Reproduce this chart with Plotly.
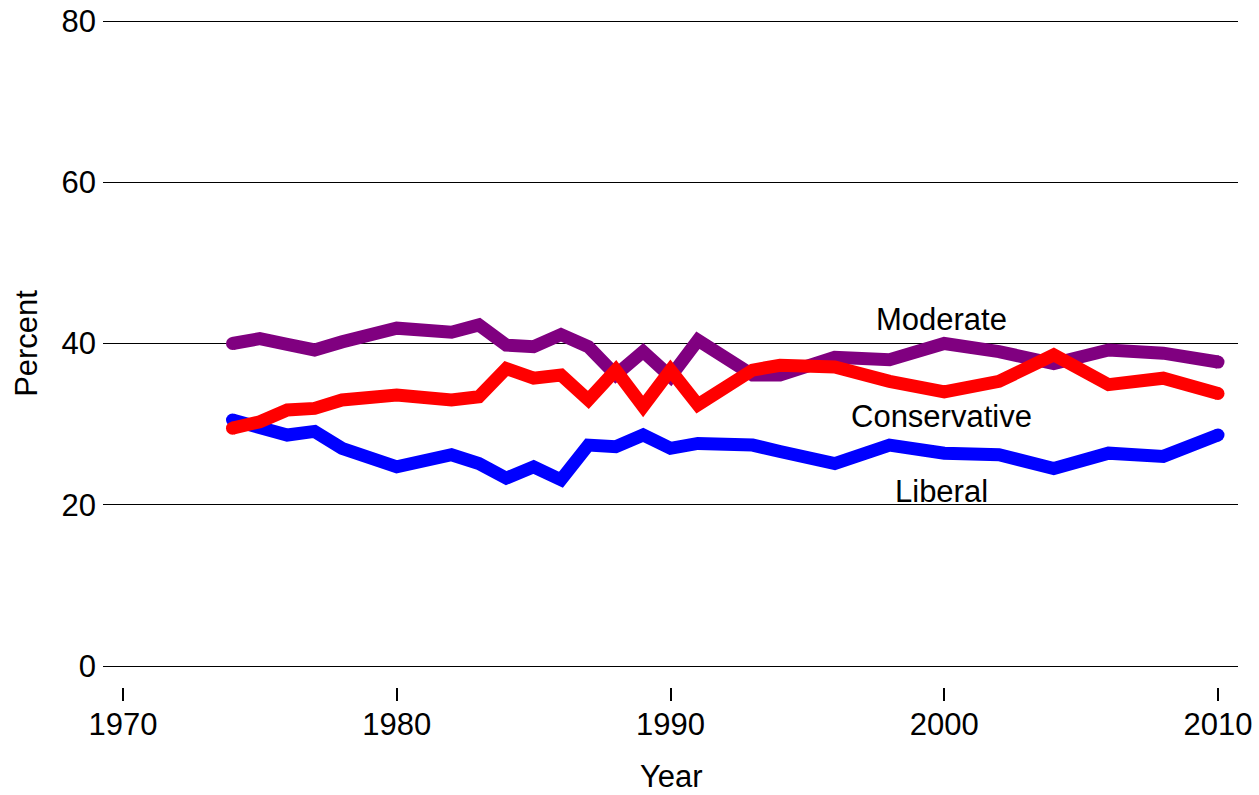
import plotly.graph_objects as go

years = [1974, 1975, 1976, 1977, 1978, 1980, 1982, 1983, 1984, 1985, 1986, 1987,
         1988, 1989, 1990, 1991, 1993, 1994, 1996, 1998, 2000, 2002, 2004, 2006,
         2008, 2010]
moderate = [40.0, 40.6, 39.9, 39.2, 40.2, 41.9, 41.4, 42.3, 39.8, 39.6, 41.1, 39.6,
            36.1, 39.0, 35.9, 40.4, 36.1, 36.1, 38.3, 38.0, 40.0, 39.0, 37.5, 39.2,
            38.8, 37.7]
conservative = [29.5, 30.3, 31.75, 31.95, 33.0, 33.6, 33.0, 33.4, 36.9, 35.7, 36.1, 33.0,
                36.7, 32.2, 36.7, 32.4, 36.7, 37.3, 37.1, 35.3, 34.0, 35.3, 38.6, 34.9,
                35.7, 33.8]
liberal = [30.5, 29.5, 28.65, 29.1, 27.0, 24.7, 26.2, 25.1, 23.3, 24.7, 23.1, 27.4,
           27.2, 28.65, 27.0, 27.6, 27.4, 26.6, 25.1, 27.4, 26.4, 26.2, 24.5, 26.4,
           26.0, 28.65]

series_names = ["Liberal", "Moderate", "Conservative"]
series_values = [liberal, moderate, conservative]
series_colors = ["#0000ff", "#800080", "#ff0000"]

label_texts = ["Moderate", "Conservative", "Liberal"]
label_x = [1999.9, 1999.9, 1999.9]
label_y = [43.0, 31.0, 21.6]

x_ticks = [1970, 1980, 1990, 2000, 2010]
y_ticks = [0, 20, 40, 60, 80]

x_title = "Year"
y_title = "Percent"

FONT = "Liberation Sans, Arial, sans-serif"
fig = go.Figure()
for name, vals, col in zip(series_names, series_values, series_colors):
    n = len(vals)
    sizes = [13 if i in (0, n - 1) else 0 for i in range(n)]
    fig.add_trace(go.Scatter(
        x=years, y=vals, mode="lines+markers", name=name,
        line=dict(color=col, width=13),
        marker=dict(color=col, size=sizes, opacity=1, line=dict(width=0)),
        showlegend=False, hoverinfo="skip"))

for t, xv, yv in zip(label_texts, label_x, label_y):
    fig.add_annotation(x=xv, y=yv, text=t, showarrow=False,
                       font=dict(size=31, color="black", family=FONT),
                       xanchor="center", yanchor="middle")

# axis titles
fig.add_annotation(x=0.501, y=-0.1331, xref="paper", yref="paper", text=x_title,
                   showarrow=False, xanchor="center", yanchor="middle",
                   font=dict(size=31, color="black", family=FONT))
fig.add_annotation(x=-0.067, y=0.509, xref="paper", yref="paper", text=y_title,
                   showarrow=False, xanchor="center", yanchor="middle", textangle=-90,
                   font=dict(size=31, color="black", family=FONT))

fig.update_layout(
    width=1259, height=795,
    margin=dict(l=103, r=21, t=11, b=108),
    paper_bgcolor="white", plot_bgcolor="white",
    font=dict(family=FONT, size=31, color="black"),
    xaxis=dict(range=[1969.27, 2010.73], tickvals=x_ticks, ticks="outside",
               ticklen=13, tickwidth=1.5, tickcolor="black", showgrid=False,
               showline=False, zeroline=False, automargin=False,
               ticklabelstandoff=-3),
    yaxis=dict(range=[-2.6047, 81.24], tickvals=y_ticks, showgrid=True,
               gridcolor="black", gridwidth=1, zeroline=False, showline=False,
               ticks="", automargin=False, ticklabelstandoff=6),
)
fig.write_html("out.html", config={"displayModeBar": False},
               post_script="document.body.style.margin='0px';")
